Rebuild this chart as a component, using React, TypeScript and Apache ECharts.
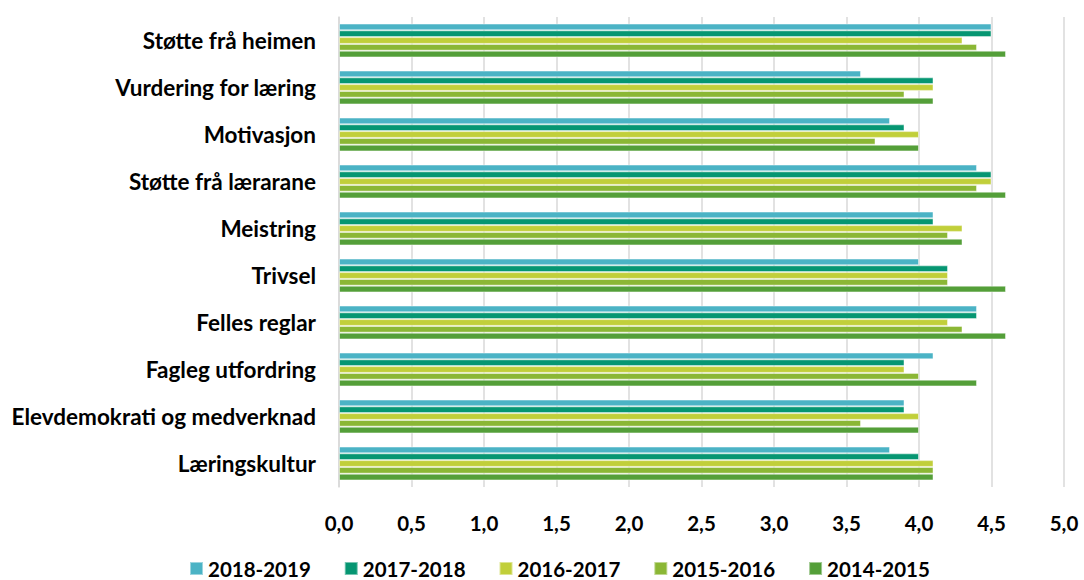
import React, { useEffect, useRef } from "react";
import * as echarts from "echarts";

const categories = [
  "Støtte frå heimen",
  "Vurdering for læring",
  "Motivasjon",
  "Støtte frå lærarane",
  "Meistring",
  "Trivsel",
  "Felles reglar",
  "Fagleg utfordring",
  "Elevdemokrati og medverknad",
  "Læringskultur",
];

const seriesNames = ["2018-2019", "2017-2018", "2016-2017", "2015-2016", "2014-2015"];
const colors = ["#4bb3c5", "#069672", "#c1cf3a", "#8bb735", "#549f39"];

const s2018_2019 = [4.5, 3.6, 3.8, 4.4, 4.1, 4.0, 4.4, 4.1, 3.9, 3.8];
const s2017_2018 = [4.5, 4.1, 3.9, 4.5, 4.1, 4.2, 4.4, 3.9, 3.9, 4.0];
const s2016_2017 = [4.3, 4.1, 4.0, 4.5, 4.3, 4.2, 4.2, 3.9, 4.0, 4.1];
const s2015_2016 = [4.4, 3.9, 3.7, 4.4, 4.2, 4.2, 4.3, 4.0, 3.6, 4.1];
const s2014_2015 = [4.6, 4.1, 4.0, 4.6, 4.3, 4.6, 4.6, 4.4, 4.0, 4.1];

const seriesValues = [s2018_2019, s2017_2018, s2016_2017, s2015_2016, s2014_2015];

const FONT = "Lato";

export default function App() {
  const ref = useRef<HTMLDivElement>(null);
  useEffect(() => {
    if (!ref.current) return;
    const chart = echarts.init(ref.current, undefined, { renderer: "svg" });
    chart.setOption({
      animation: false,
      backgroundColor: "#ffffff",
      grid: { left: 339, right: 20, top: 17, bottom: 93, containLabel: false },
      legend: {
        data: seriesNames,
        bottom: -4,
        left: 184,
        itemWidth: 13,
        itemHeight: 13,
        itemGap: 33,
        icon: "rect",
        textStyle: { fontFamily: FONT, fontWeight: "bold", fontSize: 20.5, color: "#000" },
      },
      xAxis: {
        type: "value",
        min: 0,
        max: 5,
        interval: 0.5,
        axisLine: { show: false },
        axisTick: { show: false },
        splitLine: { show: true, lineStyle: { color: "#d9d9d9", width: 1.5 } },
        axisLabel: {
          margin: 25,
          fontFamily: FONT,
          fontWeight: "bold",
          fontSize: 20.5,
          color: "#000",
          formatter: (v: number) => v.toFixed(1).replace(".", ","),
        },
      },
      yAxis: {
        type: "category",
        data: categories,
        inverse: true,
        axisLine: { show: true, lineStyle: { color: "#d9d9d9", width: 1.5 } },
        axisTick: { show: false },
        axisLabel: {
          margin: 23,
          fontFamily: FONT,
          fontWeight: "bold",
          fontSize: 22.5,
          color: "#000",
        },
      },
      series: seriesNames.map((name, i) => ({
        name,
        type: "bar",
        data: seriesValues[i],
        barGap: "0%",
        barCategoryGap: "28%",
        itemStyle: {
          color: colors[i],
          borderColor: "rgba(255,255,255,0.45)",
          borderWidth: 1,
        },
      })),
    });
    return () => chart.dispose();
  }, []);
  return <div ref={ref} style={{ width: 1084, height: 580, position: "absolute", left: 0, top: 0 }} />;
}
